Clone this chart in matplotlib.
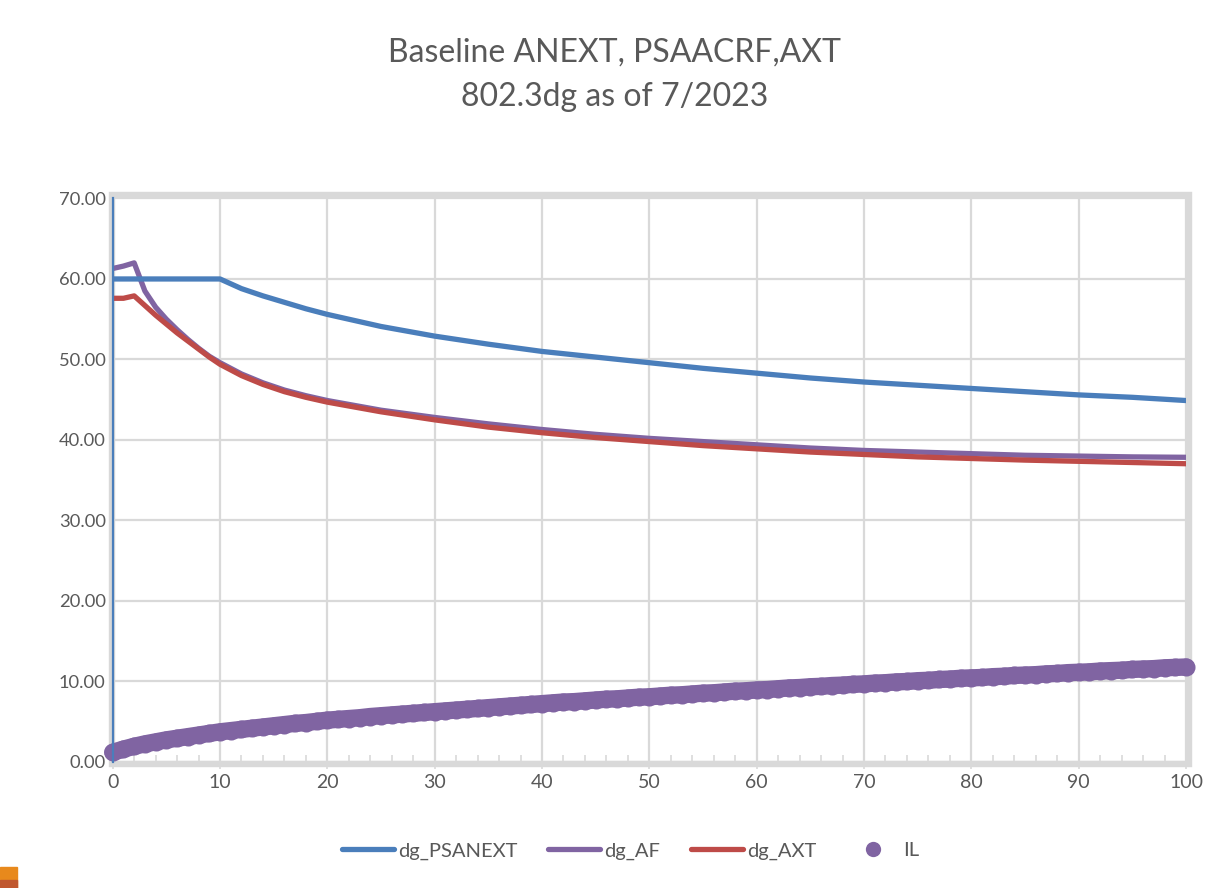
import matplotlib
matplotlib.use("Agg")
import matplotlib.pyplot as plt
from matplotlib.patches import Rectangle
from matplotlib.lines import Line2D
from matplotlib.ticker import MultipleLocator, FormatStrFormatter

# ---- data -------------------------------------------------------------
x_curve = [0, 1, 2, 3, 4, 5, 6, 7, 8, 9, 10, 12, 14, 16, 18, 20, 25, 30, 35,
           40, 45, 50, 55, 60, 65, 70, 75, 80, 85, 90, 95, 100]

dg_psanext = [60.0, 60.0, 60.0, 60.0, 60.0, 60.0, 60.0, 60.0, 60.0, 60.0, 60.0,
              58.8, 57.9, 57.1, 56.3, 55.6, 54.1, 52.9, 51.9, 51.0, 50.3,
              49.6, 48.9, 48.3, 47.7, 47.2, 46.8, 46.4, 46.0, 45.6, 45.3, 44.9]

dg_af = [61.3, 61.6, 62.0, 58.5, 56.5, 55.0, 53.7, 52.5, 51.4, 50.4, 49.6,
         48.2, 47.1, 46.2, 45.5, 44.9, 43.7, 42.8, 42.0, 41.3, 40.7,
         40.2, 39.8, 39.4, 39.0, 38.7, 38.5, 38.3, 38.1, 38.0, 37.9, 37.85]

dg_axt = [57.6, 57.6, 57.9, 56.7, 55.5, 54.4, 53.3, 52.3, 51.3, 50.3, 49.4,
          48.0, 46.9, 46.0, 45.3, 44.7, 43.5, 42.5, 41.6, 40.9, 40.3,
          39.8, 39.3, 38.9, 38.5, 38.2, 37.9, 37.7, 37.5, 37.35, 37.2, 37.05]

x_il = list(range(0, 101))
il = [1.2, 1.6, 1.95, 2.25, 2.5, 2.75, 2.95, 3.15, 3.35, 3.55, 3.75,
      3.9, 4.05, 4.2, 4.35, 4.5, 4.65, 4.8, 4.9, 5.05, 5.2,
      5.3, 5.4, 5.5, 5.65, 5.75, 5.85, 5.95, 6.05, 6.15, 6.25,
      6.35, 6.45, 6.55, 6.65, 6.75, 6.85, 6.95, 7.05, 7.15, 7.25,
      7.35, 7.45, 7.5, 7.6, 7.7, 7.8, 7.85, 7.95, 8.05, 8.1,
      8.2, 8.3, 8.35, 8.45, 8.55, 8.6, 8.7, 8.8, 8.85, 8.95,
      9.0, 9.1, 9.2, 9.25, 9.35, 9.4, 9.5, 9.55, 9.65, 9.7,
      9.8, 9.85, 9.95, 10.0, 10.1, 10.15, 10.25, 10.3, 10.4, 10.45,
      10.5, 10.6, 10.65, 10.75, 10.8, 10.85, 10.95, 11.0, 11.1, 11.15,
      11.2, 11.3, 11.35, 11.4, 11.5, 11.55, 11.6, 11.7, 11.75, 11.8]

series_names = ["dg_PSANEXT", "dg_AF", "dg_AXT", "IL"]
title_lines = ["Baseline ANEXT, PSAACRF,AXT", "802.3dg as of 7/2023"]

# ---- style ------------------------------------------------------------
BLUE = "#4a7ebb"
PURPLE = "#8064a2"
RED = "#be4b48"
GRID = "#d9d9d9"
TXT = "#595959"
LW = 3.8
IL_MS = 13.0

plt.rcParams["font.family"] = ["Lato", "DejaVu Sans"]

fig = plt.figure(figsize=(12.29, 8.88), dpi=100)
ax = fig.add_axes([0.0917, 0.1419, 0.8733, 0.6346])

ax.set_xlim(0, 100)
ax.set_ylim(0, 70)

ax.plot(x_curve, dg_psanext, color=BLUE, lw=LW, solid_capstyle="round",
        label=series_names[0], zorder=4)
ax.plot(x_curve, dg_af, color=PURPLE, lw=LW, solid_capstyle="round",
        label=series_names[1], zorder=3)
ax.plot(x_curve, dg_axt, color=RED, lw=LW, solid_capstyle="round",
        label=series_names[2], zorder=3)
# IL: dense round markers joined into a solid band
ax.plot(x_il, il, linestyle="-", lw=IL_MS * 0.96, solid_capstyle="round",
        marker="o", ms=IL_MS, color=PURPLE, markeredgewidth=0,
        label=series_names[3], zorder=5, clip_on=False)

# grid and ticks
ax.xaxis.set_major_locator(MultipleLocator(10))
ax.xaxis.set_minor_locator(MultipleLocator(2))
ax.yaxis.set_major_locator(MultipleLocator(10))
ax.yaxis.set_major_formatter(FormatStrFormatter("%.2f"))
ax.grid(True, which="major", color=GRID, lw=1.6, zorder=0)
ax.set_axisbelow(True)

ax.tick_params(axis="x", which="major", direction="out", length=5, width=1.2,
               color=GRID, labelsize=14, labelcolor=TXT, pad=4)
ax.tick_params(axis="x", which="minor", direction="in", length=5, width=1.2,
               color=GRID)
ax.tick_params(axis="y", which="major", length=0, labelsize=13.2,
               labelcolor=TXT, pad=5)

for side in ("top", "right", "bottom"):
    ax.spines[side].set_visible(False)
ax.spines["left"].set_color(BLUE)
ax.spines["left"].set_linewidth(1.6)
ax.spines["left"].set_zorder(6)

# plot-area frame
frame = Rectangle((-0.001, -0.004), 1.004, 1.01, transform=ax.transAxes,
                  fill=False, edgecolor=GRID, lw=4.6, clip_on=False, zorder=1)
ax.add_patch(frame)

fig.text(0.5, 0.9414, title_lines[0], ha="center", va="center", fontsize=23,
         color=TXT)
fig.text(0.5, 0.8908, title_lines[1], ha="center", va="center", fontsize=23,
         color=TXT)

leg = fig.legend(loc="center", bbox_to_anchor=(0.513, 0.0417), ncol=4,
                 frameon=False, fontsize=14.5, handlelength=2.6,
                 handletextpad=0.2, columnspacing=1.5, labelcolor=TXT)
for h in leg.legend_handles:
    if isinstance(h, Line2D) and h.get_marker() == "o":
        h.set_linestyle("none")
        h.set_markersize(11)

# slide edge at lower-left
fig.patches.append(Rectangle((0, 0), 0.014, 0.024, transform=fig.transFigure,
                             color="#e8891c", zorder=0))
fig.patches.append(Rectangle((0, 0), 0.014, 0.009, transform=fig.transFigure,
                             color="#c0582f", zorder=0))

fig.savefig("out.png", dpi=100, facecolor="white")
